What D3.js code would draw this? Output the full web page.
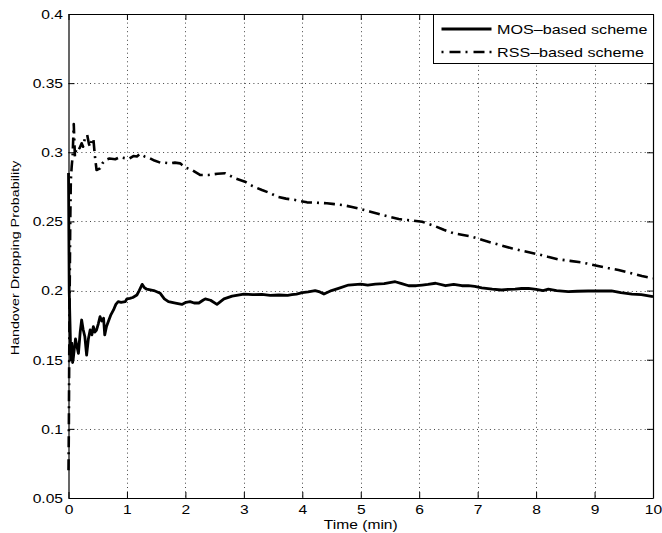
<!DOCTYPE html>
<html>
<head>
<meta charset="utf-8">
<script src="https://cdn.jsdelivr.net/npm/d3@7"></script>
<style>
  html, body { margin: 0; padding: 0; background: #fff; }
  svg { display: block; }
  text { font-family: "Liberation Sans", Arial, Helvetica, sans-serif; fill: #000; }
</style>
</head>
<body>
<svg id="chart" width="662" height="533"></svg>
<script>
// Handover dropping probability over time, two handover schemes.
const mosTime = [0,0.012,0.026,0.04,0.055,0.07,0.082,0.1,0.12,0.14,0.17,0.2,0.225,0.25,0.28,0.31,0.34,0.37,0.4,0.425,0.45,0.48,0.51,0.54,0.57,0.6,0.62,0.65,0.68,0.72,0.77,0.81,0.85,0.9,0.97,1.0,1.05,1.1,1.17,1.21,1.26,1.3,1.34,1.4,1.46,1.52,1.57,1.64,1.71,1.77,1.83,1.94,2.01,2.08,2.15,2.23,2.3,2.34,2.43,2.54,2.6,2.66,2.8,3.0,3.15,3.31,3.45,3.6,3.75,3.82,3.9,4.0,4.1,4.22,4.3,4.37,4.5,4.62,4.79,5.0,5.12,5.25,5.4,5.59,5.7,5.82,5.95,6.05,6.15,6.28,6.45,6.59,6.73,6.84,6.95,7.07,7.25,7.41,7.52,7.64,7.75,7.87,8.0,8.12,8.21,8.35,8.55,8.7,8.89,9.1,9.29,9.45,9.64,9.8,10];
const mosValue = [0.285,0.2,0.176,0.15,0.162,0.148,0.151,0.158,0.165,0.1606,0.1546,0.17,0.1787,0.172,0.1666,0.1534,0.165,0.1715,0.168,0.1739,0.17,0.1715,0.176,0.1811,0.178,0.18,0.1679,0.174,0.1775,0.182,0.186,0.19,0.192,0.1915,0.192,0.194,0.1944,0.195,0.1968,0.2,0.2045,0.202,0.201,0.2005,0.2,0.199,0.198,0.194,0.192,0.1915,0.191,0.19,0.1915,0.192,0.191,0.191,0.193,0.194,0.193,0.19,0.192,0.194,0.196,0.1975,0.197,0.1972,0.1965,0.1968,0.1965,0.197,0.1975,0.1985,0.199,0.2,0.199,0.1975,0.2,0.2016,0.204,0.2047,0.204,0.2047,0.205,0.2064,0.205,0.2035,0.2035,0.204,0.2045,0.2053,0.2035,0.2045,0.2035,0.2035,0.203,0.202,0.201,0.2004,0.2008,0.201,0.2015,0.2016,0.2008,0.1999,0.201,0.2,0.1992,0.1995,0.1997,0.1997,0.1997,0.1985,0.1975,0.197,0.1956];

const rssTime = [0,0.006,0.012,0.02,0.03,0.04,0.055,0.07,0.09,0.11,0.13,0.15,0.19,0.225,0.25,0.28,0.32,0.35,0.37,0.4,0.425,0.45,0.48,0.54,0.58,0.63,0.7,0.8,0.88,0.97,1.04,1.11,1.17,1.22,1.3,1.39,1.47,1.57,1.65,1.74,1.82,1.91,2.0,2.11,2.25,2.4,2.55,2.68,2.85,3.02,3.15,3.31,3.45,3.57,3.72,3.88,4.08,4.25,4.42,4.55,4.68,4.85,5.0,5.15,5.31,5.48,5.65,5.8,5.91,6.05,6.25,6.42,6.59,6.75,6.9,7.07,7.24,7.41,7.58,7.8,8.04,8.2,8.38,8.58,8.78,9.06,9.23,9.41,9.6,9.81,10];
const rssValue = [0.07,0.1,0.15,0.2,0.25,0.28,0.29,0.297,0.3205,0.2968,0.302,0.304,0.303,0.3065,0.304,0.31,0.3125,0.306,0.304,0.309,0.31,0.298,0.2872,0.2884,0.292,0.2944,0.2955,0.295,0.2965,0.2957,0.2955,0.2973,0.297,0.2988,0.297,0.2957,0.294,0.2925,0.2925,0.292,0.2925,0.292,0.289,0.2872,0.2836,0.2836,0.2845,0.2848,0.2812,0.2787,0.2755,0.2727,0.2705,0.2679,0.2665,0.2655,0.2638,0.2635,0.2631,0.2625,0.2619,0.2605,0.259,0.2572,0.2554,0.2535,0.2517,0.251,0.2505,0.2498,0.2469,0.244,0.2414,0.2402,0.239,0.2368,0.2346,0.2326,0.2306,0.2284,0.2262,0.2244,0.2226,0.2215,0.2204,0.2178,0.2163,0.2149,0.2128,0.2105,0.2089];

const xTicks = [0,1,2,3,4,5,6,7,8,9,10];
const yTicks = [0.05,0.1,0.15,0.2,0.25,0.3,0.35,0.4];
const seriesNames = ["MOS\u2013based scheme", "RSS\u2013based scheme"];
const axisTitles = ["Time (min)", "Handover Dropping Probability"];

// Layout
const plot = { left: 68.5, right: 653, top: 14, bottom: 498 };
const stretch = 1.3;        // wide lettering
const tickLen = 6;

const svg = d3.select("#chart");

const x = d3.scaleLinear().domain([0, 10]).range([plot.left, plot.right]);
const y = d3.scaleLinear().domain([0.05, 0.4]).range([plot.bottom, plot.top]);

// Dotted grid
const grid = svg.append("g").attr("stroke", "#444").attr("stroke-width", 1)
  .attr("stroke-dasharray", "1,3.3").attr("fill", "none");
grid.selectAll(".gx").data(xTicks.slice(1, -1)).join("line")
  .attr("x1", d => Math.round(x(d)) + 0.5).attr("x2", d => Math.round(x(d)) + 0.5)
  .attr("y1", plot.top).attr("y2", plot.bottom);
grid.selectAll(".gy").data(yTicks.slice(1, -1)).join("line")
  .attr("y1", d => Math.round(y(d)) + 0.5).attr("y2", d => Math.round(y(d)) + 0.5)
  .attr("x1", plot.left).attr("x2", plot.right);

// Axes on all four sides, ticks pointing inward, labels on left/bottom only
function stretchedLabels(sel) {
  sel.selectAll("text").each(function() {
    const t = d3.select(this);
    t.attr("transform", (t.attr("transform") || "") + ` scale(${stretch},1)`);
  });
}

const fmtY = d => d3.format("")(+d.toFixed(2));

const axB = svg.append("g").attr("transform", `translate(0,${plot.bottom})`)
  .call(d3.axisBottom(x).tickValues(xTicks).tickSizeInner(-tickLen).tickSizeOuter(0).tickPadding(0).tickFormat(d3.format("d")));
axB.selectAll("text").attr("y", 16.5).attr("dy", 0).attr("font-size", 12);

const axL = svg.append("g").attr("transform", `translate(${plot.left},0)`)
  .call(d3.axisLeft(y).tickValues(yTicks).tickSizeInner(-tickLen).tickSizeOuter(0).tickPadding(0).tickFormat(fmtY));
axL.selectAll("text").attr("x", 0).attr("dy", 0).attr("y", 0).attr("font-size", 12)
  .attr("text-anchor", "end")
  .attr("transform", `translate(-5.5,4.3) scale(${stretch},1)`);

const axT = svg.append("g").attr("transform", `translate(0,${plot.top})`)
  .call(d3.axisTop(x).tickValues(xTicks).tickSizeInner(-tickLen).tickSizeOuter(0).tickFormat(""));
const axR = svg.append("g").attr("transform", `translate(${plot.right},0)`)
  .call(d3.axisRight(y).tickValues(yTicks).tickSizeInner(-tickLen).tickSizeOuter(0).tickFormat(""));

[axB, axL, axT, axR].forEach(a => {
  a.select(".domain").attr("stroke", "#000").attr("stroke-width", 1.2);
  a.selectAll(".tick line").attr("stroke", "#000").attr("stroke-width", 1);
  a.attr("font-family", null);
});
axB.selectAll("text").each(function() {
  d3.select(this).attr("transform", `scale(${stretch},1)`).attr("x", 0);
});
// keep bottom labels centred on their tick after stretching
axB.selectAll(".tick text").attr("text-anchor", "middle");

// Series lines
const line = d3.line().x(d => x(d[0])).y(d => y(d[1]));
const mosPts = d3.zip(mosTime, mosValue);
const rssPts = d3.zip(rssTime, rssValue);

svg.append("path").datum(rssPts).attr("d", line)
  .attr("fill", "none").attr("stroke", "#000").attr("stroke-width", 2.6)
  .attr("stroke-dasharray", "11,5,2,5").attr("stroke-linejoin", "round");
svg.append("path").datum(mosPts).attr("d", line)
  .attr("fill", "none").attr("stroke", "#000").attr("stroke-width", 2.8)
  .attr("stroke-linejoin", "round");

// Axis titles
svg.append("g").attr("transform", `translate(${(plot.left + plot.right) / 2},529)`)
  .append("text").attr("text-anchor", "middle").attr("font-size", 12)
  .attr("transform", `scale(${stretch},1)`).text(axisTitles[0]);
svg.append("g").attr("transform", `translate(19,258) rotate(-90)`)
  .append("text").attr("text-anchor", "middle").attr("font-size", 11)
  .attr("transform", `scale(${stretch},1)`).text(axisTitles[1]);

// Legend
const legend = svg.append("g");
legend.append("rect").attr("x", 433.5).attr("y", 14.5).attr("width", 220).attr("height", 49)
  .attr("fill", "#fff").attr("stroke", "#000").attr("stroke-width", 1);
const legendStyles = [
  { dash: null, width: 2.8 },
  { dash: "2,6,11,5", width: 2.6 }
];
const rowY = [29, 52];
seriesNames.forEach((name, i) => {
  legend.append("line").attr("x1", 441.5).attr("x2", 491.5)
    .attr("y1", rowY[i]).attr("y2", rowY[i])
    .attr("stroke", "#000").attr("stroke-width", legendStyles[i].width)
    .attr("stroke-dasharray", legendStyles[i].dash);
  legend.append("g").attr("transform", `translate(497,${rowY[i] + 5})`)
    .append("text").attr("font-size", 12.4)
    .attr("transform", `scale(${stretch},1)`).text(name);
});
</script>
</body>
</html>
